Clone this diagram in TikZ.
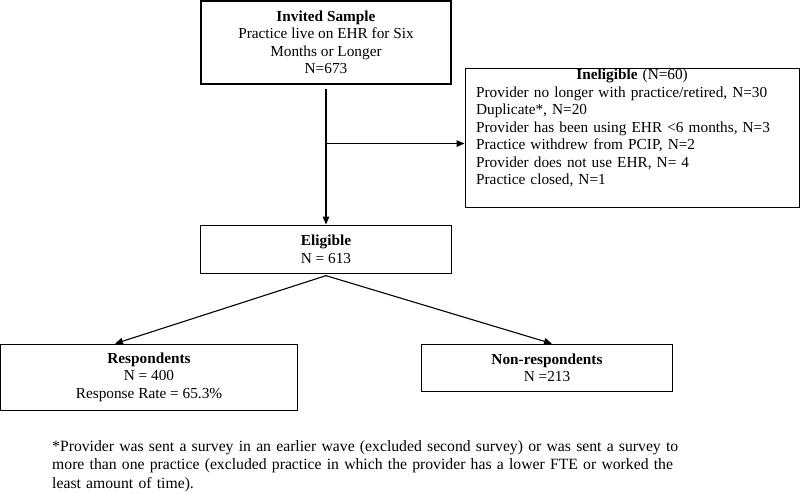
\documentclass[tikz,border=0pt]{standalone}
\usepackage{fontspec}
\setmainfont{Liberation Serif}
\usetikzlibrary{positioning, arrows.meta}

\begin{document}
\begin{tikzpicture}[x=1pt, y=-1pt, node distance=70pt,
  txt/.style={font=\fontsize{15.3}{17.5}\selectfont},
  box/.style={txt, draw, line width=1.1pt, align=center, inner sep=0pt},
  flow/.style={-{Triangle[length=8pt,width=6.5pt]}, line width=1.1pt}]
\useasboundingbox (0,0) rectangle (800,493);
% nodes %
\node[box, minimum width=250pt, minimum height=83pt] (inv) at (326,42.5) {\textbf{Invited Sample}\\Practice live on EHR for Six\\Months or Longer\\N=673};
\node[box, below right=-17pt and 13pt of inv, text width=312pt, align=left, inner xsep=11pt, inner ysep=1pt] (inel) {\makebox[\linewidth]{\textbf{Ineligible} (N=60)}\\Provider no longer with practice/retired, N=30\\Duplicate*, N=20\\Provider has been using EHR <6 months, N=3\\Practice withdrew from PCIP, N=2\\Provider does not use EHR, N= 4\\Practice closed, N=1\rule[-22pt]{0pt}{1pt}};
\node[box, below=140pt of inv, minimum width=251pt, minimum height=48pt] (elig) {\textbf{Eligible}\\N = 613};
\node[box, below=of elig, xshift=-177pt, minimum width=297pt, minimum height=66pt] (resp) {\textbf{Respondents}\\N = 400\\Response Rate = 65.3\%};
\node[box, below=of elig, xshift=221pt, minimum width=251pt, minimum height=47pt] (nonr) {\textbf{Non-respondents}\\N =213};
\node[txt, anchor=base west, text width=700pt, align=left, inner sep=0pt, font=\fontsize{15.7}{18.5}\selectfont] (note) at (52,451) {*Provider was sent a survey in an earlier wave (excluded second survey) or was sent a survey to\\more than one practice (excluded practice in which the provider has a lower FTE or worked the\\least amount of time).};
\coordinate (split) at ([yshift=-59pt]inv.south);
% edges %
\draw[flow] ([yshift=-4pt]inv.south) -- (elig.north);
\draw[flow] (split) -- (split -| inel.west);
\draw[flow] ([yshift=-2pt]elig.south) -- ([xshift=-34pt]resp.north);
\draw[flow] ([yshift=-2pt]elig.south) -- ([xshift=5pt]nonr.north);
\end{tikzpicture}
\end{document}
